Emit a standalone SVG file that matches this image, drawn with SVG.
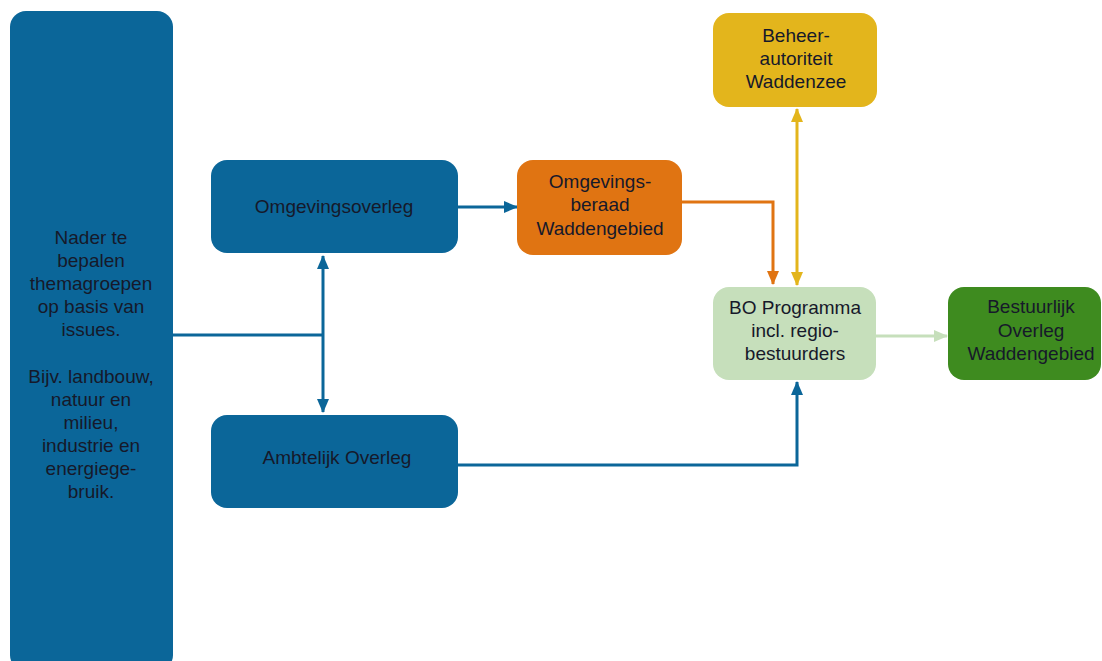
<svg xmlns="http://www.w3.org/2000/svg" width="1102" height="661" viewBox="0 0 1102 661">
<defs>
<style>
text{font-family:"Liberation Sans",Arial,sans-serif;font-size:19px;fill:#16192a;text-anchor:middle}
.blue{fill:#0b6699}
.c{fill:none;stroke-width:3}
</style>
<marker id="ab" markerWidth="14" markerHeight="12" refX="13" refY="6" orient="auto-start-reverse" markerUnits="userSpaceOnUse" viewBox="0 0 14 12"><path d="M0,0L14,6L0,12z" fill="#0b6699"/></marker>
<marker id="ao" markerWidth="14" markerHeight="12" refX="13" refY="6" orient="auto" markerUnits="userSpaceOnUse" viewBox="0 0 14 12"><path d="M0,0L14,6L0,12z" fill="#e07412"/></marker>
<marker id="ay" markerWidth="14" markerHeight="12" refX="13" refY="6" orient="auto-start-reverse" markerUnits="userSpaceOnUse" viewBox="0 0 14 12"><path d="M0,0L14,6L0,12z" fill="#e3b51c"/></marker>
<marker id="ag" markerWidth="14" markerHeight="12" refX="13" refY="6" orient="auto" markerUnits="userSpaceOnUse" viewBox="0 0 14 12"><path d="M0,0L14,6L0,12z" fill="#c6dfbb"/></marker>
</defs>
<rect width="1102" height="661" fill="#ffffff"/>
<g id="connectors">
<path class="c" stroke="#0b6699" d="M173,335H323"/>
<path class="c" stroke="#0b6699" d="M323,256V412" marker-start="url(#ab)" marker-end="url(#ab)"/>
<path class="c" stroke="#0b6699" d="M458,207H517" marker-end="url(#ab)"/>
<path class="c" stroke="#e07412" d="M682,202H773V284" marker-end="url(#ao)"/>
<path class="c" stroke="#e3b51c" d="M797,109V285" marker-start="url(#ay)" marker-end="url(#ay)"/>
<path class="c" stroke="#c6dfbb" d="M876,336H947" marker-end="url(#ag)"/>
<path class="c" stroke="#0b6699" d="M458,465H797V382" marker-end="url(#ab)"/>
</g>
<g id="themagroepen">
<rect class="blue" x="10" y="11" width="163" height="660" rx="16"/>
<text x="91" y="244">Nader te</text>
<text x="91" y="267">bepalen</text>
<text x="91" y="290">themagroepen</text>
<text x="91" y="313">op basis van</text>
<text x="91" y="336">issues.</text>
<text x="91" y="383">Bijv. landbouw,</text>
<text x="91" y="406">natuur en</text>
<text x="91" y="429">milieu,</text>
<text x="91" y="452">industrie en</text>
<text x="91" y="475">energiege-</text>
<text x="91" y="498">bruik.</text>
</g>
<g id="omgevingsoverleg">
<rect class="blue" x="211" y="160" width="247" height="93" rx="16"/>
<text x="334" y="213">Omgevingsoverleg</text>
</g>
<g id="ambtelijk">
<rect class="blue" x="211" y="415" width="247" height="93" rx="16"/>
<text x="337" y="464">Ambtelijk Overleg</text>
</g>
<g id="omgevingsberaad">
<rect fill="#e07412" x="517" y="160" width="165" height="95" rx="16"/>
<text x="600" y="188">Omgevings-</text>
<text x="600" y="211">beraad</text>
<text x="600" y="235">Waddengebied</text>
</g>
<g id="beheerautoriteit">
<rect fill="#e3b51c" x="713" y="13" width="164" height="94" rx="16"/>
<text x="796" y="42">Beheer-</text>
<text x="796" y="65">autoriteit</text>
<text x="796" y="88">Waddenzee</text>
</g>
<g id="boprogramma">
<rect fill="#c6dfbb" x="713" y="287" width="163" height="93" rx="16"/>
<text x="795" y="314">BO Programma</text>
<text x="795" y="337">incl. regio-</text>
<text x="795" y="360">bestuurders</text>
</g>
<g id="bestuurlijk">
<rect fill="#3e8b1f" x="948" y="287" width="153" height="93" rx="16"/>
<text x="1031" y="313">Bestuurlijk</text>
<text x="1031" y="337">Overleg</text>
<text x="1031" y="360">Waddengebied</text>
</g>
</svg>
